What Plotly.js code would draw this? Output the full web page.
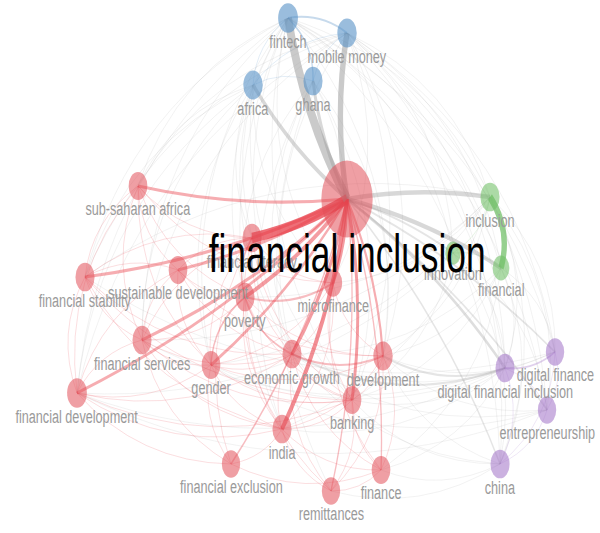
<!DOCTYPE html>
<html><head><meta charset="utf-8">
<script src="https://cdn.plot.ly/plotly-3.0.1.min.js"></script>
<style>
html,body{margin:0;padding:0;background:#fff;overflow:hidden;}
#wrap{width:600px;height:533px;overflow:hidden;position:relative;}
#chart{width:900px;height:533px;transform:scaleX(0.6667);transform-origin:0 0;}
</style></head><body><div id="wrap"><div id="chart"></div></div>
<script>
const nodeKeys = ["ssa","flit","sdev","fstab","pov","micro","fserv","gender","egrowth","dev","fdev","bank","india","fexcl","fin","remit",
  "fintech","mm","africa","ghana","incl","innov","financial","dfi","dfin","entre","china","FI"];
const nodeLabels = ["sub-saharan africa","financial literacy","sustainable development","financial stability","poverty","microfinance",
  "financial services","gender","economic growth","development","financial development","banking","india","financial exclusion","finance","remittances",
  "fintech","mobile money","africa","ghana","inclusion","innovation","financial","digital financial inclusion","digital finance","entrepreneurship","china","financial inclusion"];
const nodeX = [138,252,178,85,245,333,142,211,292,383,77,352,282,231,381,331, 288,347,253,313, 490,453,501, 505,555,547,500, 347];
const nodeY = [186,238,270,277,297,283,340,365,354,356,393,400,429,464,470,491, 18,33,85,81, 197,253,268, 368,352,410,464, 199];
const nodeCluster = ["red","red","red","red","red","red","red","red","red","red","red","red","red","red","red","red",
  "blue","blue","blue","blue","green","green","green","purple","purple","purple","purple","red"];
const nodeOcc = [52,54,52,54,54,50,54,52,54,56,58,52,54,50,52,50, 58,56,56,54, 54,35,41, 54,50,50,54, 390];

const edgeFrom = [
 "fintech","mm","africa","ghana","ssa","flit","sdev","fstab","pov","micro","fserv","gender","egrowth","dev","fdev","bank","india","fexcl","fin","remit","incl","innov","financial","dfi","dfin","entre","china",
 "fintech","fintech","fintech","mm","africa","mm",
 "incl","incl","innov",
 "dfi","dfi","dfi","dfin","dfin","china",
 "ssa","ssa","ssa","ssa","ssa","ssa","ssa","ssa",
 "fstab","fstab","fstab","fstab","fstab","fstab","fstab",
 "flit","flit","flit","flit","flit","flit","flit","flit","flit",
 "sdev","sdev","sdev","sdev","sdev","sdev",
 "pov","pov","pov","pov","pov","pov","pov","pov",
 "micro","micro","micro","micro","micro","micro",
 "fserv","fserv","fserv","fserv","fserv","fserv",
 "gender","gender","gender","gender","gender","gender",
 "egrowth","egrowth","egrowth","egrowth","egrowth","egrowth",
 "dev","dev","dev","dev",
 "fdev","fdev","fdev",
 "bank","bank","bank",
 "india","india","india",
 "fin","fexcl",
 "fintech","fintech","fintech","fintech","fintech","fintech","fintech","fintech","fintech","fintech","fintech","fintech","fintech","fintech","fintech","fintech","fintech","fintech","fintech",
 "mm","mm","mm","mm","mm","mm","mm","mm","mm","mm","mm","mm","mm","mm","mm",
 "africa","africa","africa","africa","africa","africa","africa","africa","africa",
 "ghana","ghana","ghana","ghana","ghana","ghana","ghana",
 "incl","incl","incl","incl","financial","financial","financial","innov","innov","innov",
 "incl","incl","incl","incl","incl","incl","financial","financial","financial","innov","financial","innov","incl",
 "dfi","dfi","dfi","dfi","dfi","dfi","dfi","dfin","dfin","china","china","china","china","china","entre","entre","entre","entre","dfi","dfin"
];
const edgeTo = [
 "FI","FI","FI","FI","FI","FI","FI","FI","FI","FI","FI","FI","FI","FI","FI","FI","FI","FI","FI","FI","FI","FI","FI","FI","FI","FI","FI",
 "mm","africa","ghana","ghana","ghana","africa",
 "financial","innov","financial",
 "dfin","china","entre","entre","china","entre",
 "fstab","flit","fserv","fdev","sdev","pov","micro","gender",
 "fdev","fserv","sdev","flit","egrowth","bank","india",
 "pov","gender","fserv","micro","india","egrowth","sdev","fexcl","bank",
 "pov","fserv","gender","egrowth","dev","fdev",
 "micro","gender","egrowth","dev","india","fserv","remit","bank",
 "egrowth","dev","bank","india","gender","fin",
 "fdev","gender","egrowth","india","bank","fexcl",
 "egrowth","india","fexcl","bank","dev","fdev",
 "dev","bank","fdev","remit","fin","india",
 "bank","remit","fin","india",
 "bank","india","fexcl",
 "fin","india","remit",
 "fexcl","remit","fin",
 "remit","fin",
 "ssa","fstab","fdev","flit","pov","egrowth","bank","incl","financial","innov","dfi","dfin","china","entre","dev","fserv","india","gender","micro",
 "incl","financial","dfi","dfin","china","entre","ssa","micro","bank","dev","fserv","innov","fdev","fstab","egrowth",
 "ssa","fstab","fdev","flit","egrowth","micro","bank","fserv","gender",
 "micro","bank","dev","pov","india","egrowth","remit",
 "dfi","dfin","china","entre","dfi","dfin","china","dfi","china","entre",
 "pov","micro","dev","gender","fserv","india","dev","bank","fin","bank","egrowth","fdev","fstab",
 "dev","egrowth","bank","fin","india","gender","fserv","dev","egrowth","bank","fin","egrowth","dev","remit","egrowth","gender","fdev","dev","fdev","fstab"
];
const edgeWeight = [
 10,7,4,4,3,9,3,3,4,4,3,3,4,3,3,4,5,2,2,2,4,2,4,3,2,2,2,
 2,1,2,1,1,1,
 7,1,1,
 2,1,1,1,1,1,
 1,1,1,1,1,1,1,1,
 1,1,1,1,1,1,1,
 2,1,1,1,1,1,1,1,1,
 1,1,1,1,1,1,
 2,2,2,1,1,1,1,1,
 1,1,1,1,1,1,
 1,1,1,1,1,1,
 1,1,1,1,1,1,
 2,1,1,1,1,1,
 1,1,1,1,
 1,1,1,
 1,1,1,
 1,1,1,
 1,1,
 1,1,1,1,1,1,1,1,1,1,1,1,1,1,1,1,1,1,1,
 1,1,1,1,1,1,1,1,1,1,1,1,1,1,1,
 1,1,1,1,1,1,1,1,1,
 1,1,1,1,1,1,1,
 1,1,1,1,1,1,1,1,1,1,
 1,1,1,1,1,1,1,1,1,1,1,1,1,
 2,2,1,1,1,1,1,1,1,1,1,1,1,1,1,1,1,1,1,1
];

// ---- styling ----
const nodeFill = {red:'rgba(226,78,88,0.78)', blue:'rgba(86,144,198,0.85)', green:'rgba(110,190,100,0.82)', purple:'rgba(160,112,198,0.78)'};
const edgeRGB = {red:'232,56,66', blue:'86,144,198', green:'110,190,100', purple:'160,112,198', gray:'150,150,150'};
const idx = {}; nodeKeys.forEach((k,i)=>idx[k]=i);
const size = nodeOcc.map(o=>3.9*Math.sqrt(o));
const CX = 330, CY = 260;

const order = edgeWeight.map((w,i)=>i).sort((a,b)=>{
  const ga = nodeCluster[idx[edgeFrom[a]]]===nodeCluster[idx[edgeTo[a]]]?1:0;
  const gb = nodeCluster[idx[edgeFrom[b]]]===nodeCluster[idx[edgeTo[b]]]?1:0;
  return (edgeWeight[a]-edgeWeight[b]) || (ga-gb);
});
const shapes = [];
order.forEach(i=>{
  const a = idx[edgeFrom[i]], b = idx[edgeTo[i]], w = edgeWeight[i];
  const x0=nodeX[a], y0=nodeY[a], x1=nodeX[b], y1=nodeY[b];
  const dx=x1-x0, dy=y1-y0, len=Math.hypot(dx,dy);
  let nx=-dy/len, ny=dx/len;
  const mx=(x0+x1)/2, my=(y0+y1)/2;
  const toHub = edgeTo[i] === 'FI';
  if (!toHub) {
    if ((mx+nx-CX)**2+(my+ny-CY)**2 < (mx-nx-CX)**2+(my-ny-CY)**2) { nx=-nx; ny=-ny; }
  }
  const k = (toHub ? 0.08 : 0.22)*len;
  const qx = mx+nx*k, qy = my+ny*k;
  const same = nodeCluster[a]===nodeCluster[b];
  const cl = same ? nodeCluster[a] : 'gray';
  const alpha = same ? Math.min(0.72, 0.17+0.08*w) : Math.min(0.5, 0.13+0.06*w);
  shapes.push({type:'path', xref:'x', yref:'y', layer:'below',
    path:`M${x0},${y0} Q${qx},${qy} ${x1},${y1}`,
    line:{color:`rgba(${edgeRGB[cl]},${alpha})`, width:0.8+(w-1)*1.2},
    fillcolor:'rgba(0,0,0,0)'});
});

const annotations = nodeKeys.map((k,i)=>{
  const big = k==='FI';
  const fs = big ? 53 : 19;
  return {x:nodeX[i], y:nodeY[i], xref:'x', yref:'y', text:nodeLabels[i], showarrow:false,
    xanchor:'center', yanchor:'middle', yshift:-(size[i]/2+5+0.2*fs),
    font:{family:'Liberation Sans, Arial, sans-serif', size:fs, color: big ? '#000000' : '#9a9a9a'}};
});

const trace = {type:'scatter', mode:'markers', x:nodeX, y:nodeY, hoverinfo:'skip',
  marker:{size:size, color:nodeCluster.map(c=>nodeFill[c]), line:{width:0}}};

Plotly.newPlot('chart', [trace], {
  width:900, height:533, margin:{l:0,r:0,t:0,b:0},
  paper_bgcolor:'#ffffff', plot_bgcolor:'#ffffff', showlegend:false,
  xaxis:{range:[0,600], visible:false, fixedrange:true},
  yaxis:{range:[533,0], visible:false, fixedrange:true},
  shapes:shapes, annotations:annotations
}, {staticPlot:true, displayModeBar:false});
</script></body></html>
